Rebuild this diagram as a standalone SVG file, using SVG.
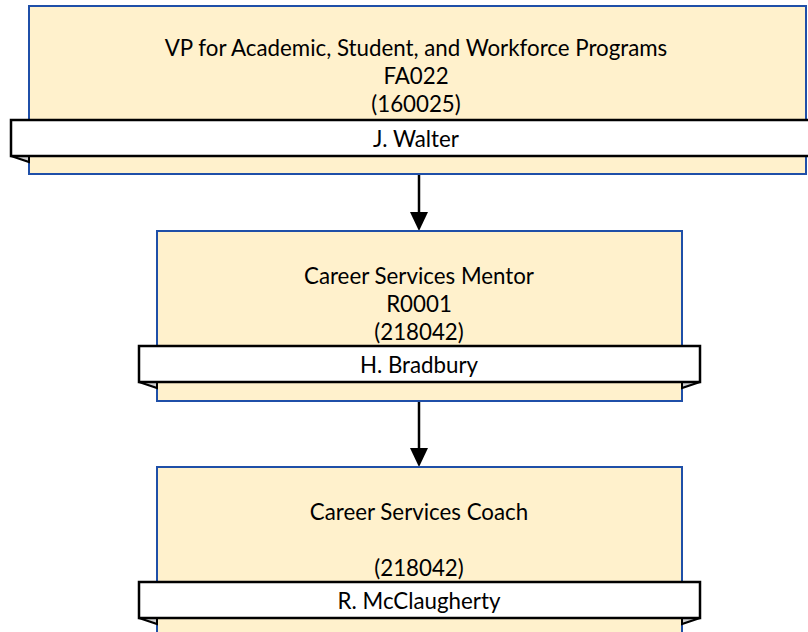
<svg xmlns="http://www.w3.org/2000/svg" width="808" height="632" viewBox="0 0 808 632">
<defs>
<style>
.box{fill:#FFF1CC;stroke:#1F4FA8;stroke-width:2}
.ban{fill:#FFFFFF;stroke:#000;stroke-width:2.5}
.fold{fill:#D0D0D0;stroke:#000;stroke-width:2;stroke-linejoin:miter}
.t{font-family:Lato,"Open Sans","Liberation Sans",sans-serif;font-size:22.3px;fill:#000;text-anchor:middle}
.conn{stroke:#000;stroke-width:2.5;fill:none}
</style>
</defs>
<rect width="808" height="632" fill="#fff"/>
<g id="connectors">
<line class="conn" x1="419" y1="174" x2="419" y2="212"/>
<path d="M410,212 L428,212 L419,231 Z" fill="#000"/>
<line class="conn" x1="419" y1="401" x2="419" y2="448"/>
<path d="M410,448 L428,448 L419,467 Z" fill="#000"/>
</g>
<g id="node-vp">
<rect class="box" x="29" y="6" width="777" height="168"/>
<path class="fold" d="M11,156 L29,162 L29,156 Z"/>
<rect class="ban" x="11" y="120" width="800" height="36"/>
<text class="t" x="416" y="56">VP for Academic, Student, and Workforce Programs</text>
<text class="t" x="416" y="84">FA022</text>
<text class="t" x="416" y="112">(160025)</text>
<text class="t" x="416" y="147">J. Walter</text>
</g>
<g id="node-mentor">
<rect class="box" x="157" y="231" width="525" height="170"/>
<path class="fold" d="M139,382 L157,388 L157,382 Z"/>
<path class="fold" d="M700,382 L682,388 L682,382 Z"/>
<rect class="ban" x="139" y="346" width="561" height="36"/>
<text class="t" x="419" y="284">Career Services Mentor</text>
<text class="t" x="419" y="312">R0001</text>
<text class="t" x="419" y="340">(218042)</text>
<text class="t" x="419" y="373">H. Bradbury</text>
</g>
<g id="node-coach">
<rect class="box" x="157" y="467" width="525" height="180"/>
<path class="fold" d="M139,618 L157,624 L157,618 Z"/>
<path class="fold" d="M700,618 L682,624 L682,618 Z"/>
<rect class="ban" x="139" y="582" width="561" height="36"/>
<text class="t" x="419" y="520">Career Services Coach</text>
<text class="t" x="419" y="576">(218042)</text>
<text class="t" x="419" y="609">R. McClaugherty</text>
</g>
</svg>
